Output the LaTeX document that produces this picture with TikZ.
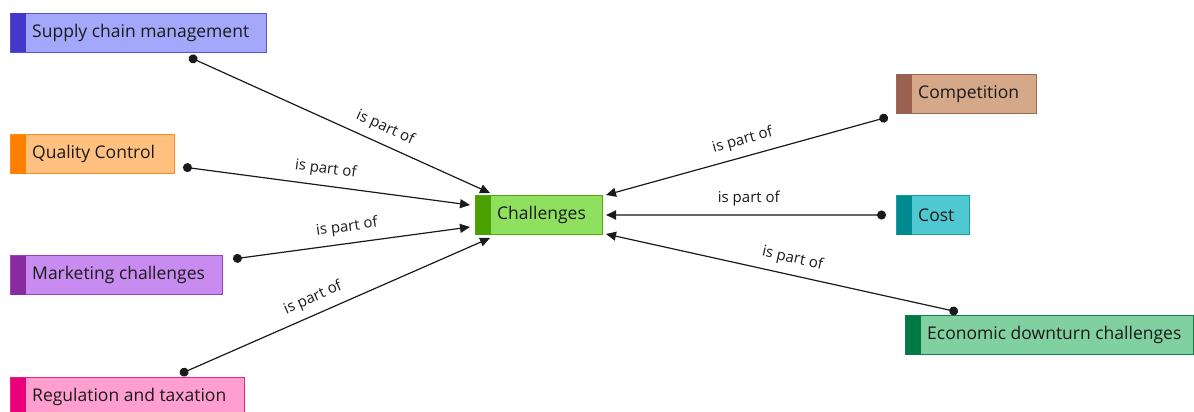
\documentclass[tikz,border=0pt]{standalone}
\usepackage{fontspec}
\setmainfont{Open Sans}
\usetikzlibrary{arrows.meta}

% box colours: fill, border, side strip
\definecolor{scmF}{HTML}{A4A8FA}\definecolor{scmD}{HTML}{5A50D8}\definecolor{scmS}{HTML}{4338C8}
\definecolor{qcF}{HTML}{FFC080}\definecolor{qcD}{HTML}{FF8C1A}\definecolor{qcS}{HTML}{FF7F00}
\definecolor{mkF}{HTML}{C88CF0}\definecolor{mkD}{HTML}{9A40C0}\definecolor{mkS}{HTML}{8A2AA0}
\definecolor{rtF}{HTML}{FF9FD0}\definecolor{rtD}{HTML}{F0208A}\definecolor{rtS}{HTML}{E8007A}
\definecolor{chF}{HTML}{90E060}\definecolor{chD}{HTML}{4AAA10}\definecolor{chS}{HTML}{4AA000}
\definecolor{cpF}{HTML}{D4A888}\definecolor{cpD}{HTML}{A06850}\definecolor{cpS}{HTML}{9A6050}
\definecolor{coF}{HTML}{50C8D0}\definecolor{coD}{HTML}{10A0A8}\definecolor{coS}{HTML}{008A90}
\definecolor{ecF}{HTML}{80D0A0}\definecolor{ecD}{HTML}{108050}\definecolor{ecS}{HTML}{007A45}
\definecolor{ink}{HTML}{1A1A1A}

\tikzset{
  topic/.style={rectangle, line width=1pt, minimum height=39pt, inner sep=0pt, anchor=north west},
  topictext/.style={anchor=west, inner sep=0pt, text=ink, font=\fontsize{17.5}{20}\selectfont},
  rel/.style={line width=1.2pt, draw=ink},
  dotstart/.style={{Circle[length=9pt,color=ink]}-{Triangle[length=10pt,width=9pt,color=ink]}},
  dotend/.style={{Triangle[length=10pt,width=9pt,color=ink]}-{Circle[length=9pt,color=ink]}},
  lbl/.style={sloped, above=7pt, inner sep=1pt, text=ink, font=\fontsize{15}{17}\selectfont}
}

% #1 name, #2 colour prefix, #3 x, #4 y, #5 width, #6 text
\newcommand{\topicbox}[6]{%
  \node[topic, fill=#2F, draw=#2D, minimum width=#5pt] (#1) at (#3,#4) {};
  \fill[#2S] ([xshift=0.5pt,yshift=-0.5pt]#1.north west) rectangle ([xshift=16pt,yshift=0.5pt]#1.south west);
  \node[topictext] (#1-t) at ([xshift=22pt]#1.west) {#6};
}

\begin{document}
\begin{tikzpicture}[x=1pt,y=-1pt]
\useasboundingbox (0,0) rectangle (1194,412);
\begin{scope}
\clip (0,0) rectangle (1194,412);

\topicbox{scm}{scm}{10}{13}{256}{Supply chain management}
\topicbox{qc}{qc}{10}{134}{164}{Quality Control}
\topicbox{mk}{mk}{10}{255}{212}{Marketing challenges}
\topicbox{rt}{rt}{10}{377}{234}{Regulation and taxation}
\topicbox{ch}{ch}{475}{195}{127}{Challenges}
\topicbox{cp}{cp}{896}{74}{140}{Competition}
\topicbox{co}{co}{896}{195}{73}{Cost}
\topicbox{ec}{ec}{905}{315}{288}{Economic downturn challenges}

% connector ends (yshift is upward)
\coordinate (scm-e) at ([xshift=179pt,yshift=-4pt]scm.south west);
\coordinate (qc-e)  at ([xshift=8pt,yshift=7pt]qc.south east);
\coordinate (mk-e)  at ([xshift=10pt,yshift=-4pt]mk.north east);
\coordinate (rt-e)  at ([xshift=170pt,yshift=3pt]rt.north west);
\coordinate (ch-a)  at ([xshift=15pt,yshift=2pt]ch.north west);
\coordinate (ch-b)  at ([xshift=-5pt,yshift=-10pt]ch.north west);
\coordinate (ch-c)  at ([xshift=-5pt,yshift=8pt]ch.south west);
\coordinate (ch-d)  at ([xshift=15pt,yshift=-3pt]ch.south west);
\coordinate (ch-e)  at ([xshift=3pt,yshift=0pt]ch.north east);
\coordinate (ch-f)  at ([xshift=3pt]ch.east);
\coordinate (ch-g)  at ([xshift=3pt,yshift=1pt]ch.south east);
\coordinate (cp-e)  at ([xshift=-8pt,yshift=-3pt]cp.south west);
\coordinate (co-e)  at ([xshift=-10pt]co.west);
\coordinate (ec-e)  at ([xshift=53pt,yshift=3pt]ec.north west);

\draw[rel, dotstart] (scm-e) -- node[lbl, pos=0.63] {is part of} (ch-a);
\draw[rel, dotstart] (qc-e)  -- node[lbl, pos=0.49] {is part of} (ch-b);
\draw[rel, dotstart] (mk-e)  -- node[lbl, pos=0.49] {is part of} (ch-c);
\draw[rel, dotstart] (rt-e)  -- node[lbl, pos=0.45] {is part of} (ch-d);
\draw[rel, dotend] (ch-e) -- node[lbl, pos=0.5] {is part of} (cp-e);
\draw[rel, dotend, draw=black!60, line width=1.8pt] (ch-f) -- node[lbl, pos=0.51] {is part of} (co-e);
\draw[rel, dotend] (ch-g) -- node[lbl, pos=0.52] {is part of} (ec-e);
\end{scope}
\end{tikzpicture}
\end{document}
